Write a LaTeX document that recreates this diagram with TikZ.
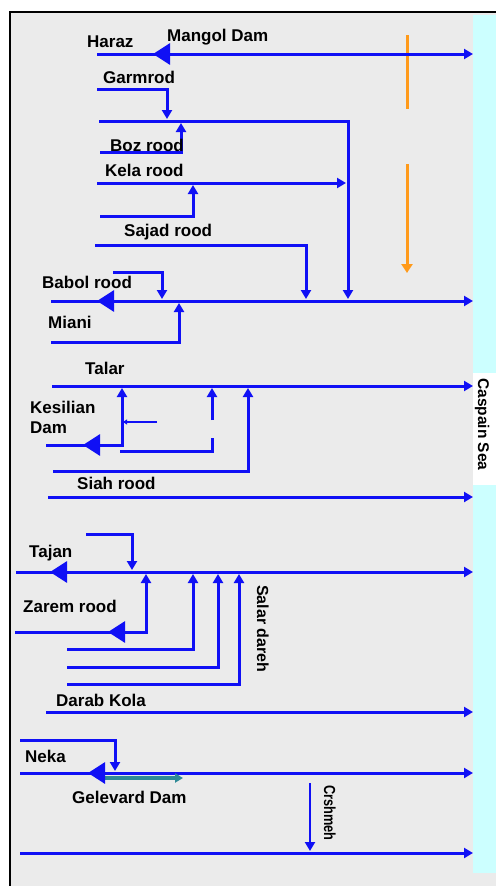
\documentclass[tikz,border=0pt]{standalone}
\usepackage{fontspec}
\setmainfont{Liberation Sans}
\usetikzlibrary{arrows.meta}
\definecolor{rvblue}{HTML}{1010F5}
\definecolor{rvgray}{HTML}{EBEBEB}
\definecolor{rvsea}{HTML}{CCFFFF}
\definecolor{rvorange}{HTML}{FF9A1A}
\definecolor{rvteal}{HTML}{2E8A96}

\begin{document}
\begin{tikzpicture}[
  x=1pt,y=-1pt,
  lbl/.style={font=\fontsize{17}{19}\selectfont\bfseries,inner sep=0pt,anchor=base west},
  vlbl/.style={font=\fontsize{16}{18}\selectfont\bfseries,inner sep=0pt,anchor=base west,rotate=-90},
  river/.style={draw=rvblue,line width=3pt},
  flow/.style={river,-{Triangle[length=9pt,width=10pt]}},
  dam/.style={draw=rvblue,line width=3pt,-{Triangle[length=17pt,width=21pt]}},
  feeder/.style={draw=rvblue,line width=1.8pt}
]
\useasboundingbox (0,0) rectangle (496,886);
% frame and sea
\fill[white] (0,0) rectangle (496,886);
\fill[rvgray] (10,12) rectangle (496,886);
\draw[line width=2.5pt] (10,886) -- (10,12) -- (496,12);
\fill[rvsea] (473,15) rectangle (496,873);
\fill[white] (473,373) rectangle (496,485);
\node[vlbl,font=\fontsize{15.5}{18}\selectfont\bfseries] (sea) at (478,378) {Caspain Sea};

% orange marker
\draw[rvorange,line width=3pt] (407,35) -- (407,109);
\draw[rvorange,line width=3pt,-{Triangle[length=9pt,width=11pt]}] (407,164) -- (407,273);

% Haraz
\draw[flow] (97,54) -- (473,54);
\draw[dam] (169,54) -- (153,54);
\node[lbl] (haraz) at (87,47) {Haraz};
\node[lbl] (mangol) at (167,41) {Mangol Dam};
\draw[flow] (97,89) -- (167,89) -- (167,119);
\node[lbl] (garmrod) at (103,83) {Garmrod};
\draw[flow] (99,121) -- (348,121) -- (348,299);
\draw[flow] (100,152) -- (181,152) -- (181,123);
\node[lbl] (boz) at (110,151) {Boz rood};
\draw[flow] (97,183) -- (346,183);
\draw[flow] (100,216) -- (193,216) -- (193,185);
\node[lbl] (kela) at (105,176) {Kela rood};
\draw[flow] (95,245) -- (306,245) -- (306,299);
\node[lbl] (sajad) at (124,236) {Sajad rood};

% Babol rood
\draw[flow] (113,272) -- (162,272) -- (162,299);
\draw[flow] (51,301) -- (473,301);
\draw[dam] (115,301) -- (97,301);
\node[lbl] (babol) at (42,288) {Babol rood};
\draw[flow] (51,342) -- (179,342) -- (179,303);
\node[lbl] (miani) at (48,328) {Miani};

% Talar
\draw[flow] (52,386) -- (473,386);
\node[lbl] (talar) at (85,374) {Talar};
\draw[flow] (46,445) -- (122,445) -- (122,388);
\draw[dam] (100,445) -- (83,445);
\draw[feeder,-{Triangle[length=4pt,width=5pt]}] (157,422) -- (123,422);
\draw[river] (120,451) -- (212,451) -- (212,438);
\draw[flow] (212,420) -- (212,388);
\draw[flow] (53,471) -- (248,471) -- (248,388);
\node[lbl] (kesilian) at (30,413) {Kesilian};
\node[lbl] (kdam) at (30,433) {Dam};

% Siah rood
\draw[flow] (48,497) -- (473,497);
\node[lbl] (siah) at (77,489) {Siah rood};

% Tajan
\draw[flow] (86,534) -- (132,534) -- (132,570);
\draw[flow] (16,572) -- (473,572);
\draw[dam] (66,572) -- (50,572);
\node[lbl] (tajan) at (29,557) {Tajan};
\draw[flow] (15,632) -- (146,632) -- (146,574);
\draw[dam] (124,632) -- (108,632);
\node[lbl] (zarem) at (23,612) {Zarem rood};
\draw[flow] (67,649) -- (193,649) -- (193,574);
\draw[flow] (67,667) -- (218,667) -- (218,574);
\draw[flow] (67,684) -- (239,684) -- (239,574);
\node[vlbl] (salar) at (257,585) {Salar dareh};

% Darab Kola
\draw[flow] (46,712) -- (473,712);
\node[lbl] (darab) at (56,706) {Darab Kola};

% Neka
\draw[flow] (20,740) -- (115,740) -- (115,771);
\draw[flow] (20,773) -- (473,773);
\draw[draw=rvteal,line width=3.5pt,-{Triangle[length=8pt,width=9pt]}] (100,778) -- (183,778);
\draw[dam] (102,773) -- (88,773);
\node[lbl] (neka) at (25,762) {Neka};
\node[lbl] (gelevard) at (72,803) {Gelevard Dam};
\draw[flow,line width=2.2pt] (310,783) -- (310,851);
\node[vlbl] (crshmeh) at (324,785) {\scalebox{0.8}[1]{Crshmeh}};
\draw[flow] (20,853) -- (473,853);
\end{tikzpicture}
\end{document}
